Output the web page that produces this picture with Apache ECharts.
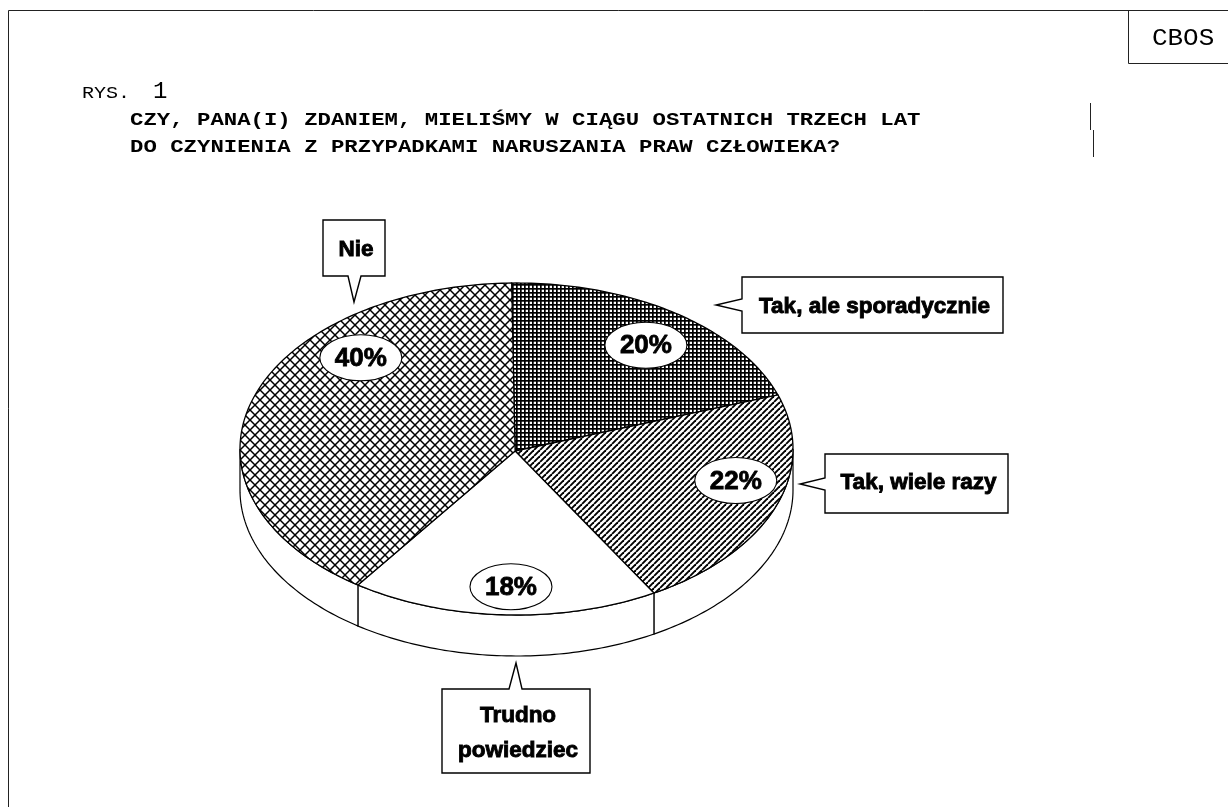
<!DOCTYPE html>
<html>
<head>
<meta charset="utf-8">
<title>CBOS rys. 1</title>
<script src="https://cdn.jsdelivr.net/npm/echarts@6/dist/echarts.min.js"></script>
<style>
	* { margin: 0; padding: 0 }
	html, body { width: 100%; height: 100%; background: #fff; overflow: hidden; }
	#main { width: 1228px; height: 807px; }
</style>
</head>
<body>
<div id="main"></div>
<script>
// dane, kolejnosc zgodnie z ruchem wskazowek od godziny 12
var categories = ['Tak, ale sporadycznie', 'Tak, wiele razy', 'Trudno\npowiedziec', 'Nie'];
var values = [20, 22, 18, 40];
var tickLabels = values.map(function (v) { return v + '%'; });

var titleLines = [
	'CZY, PANA(I) ZDANIEM, MIELIŚMY W CIĄGU OSTATNICH TRZECH LAT',
	'DO CZYNIENIA Z PRZYPADKAMI NARUSZANIA PRAW CZŁOWIEKA?'
];

// polozenie owali z procentami (w jednostkach osi)
var ovalX = [0.468, 0.793, -0.02, -0.563];
var ovalY = [0.625, -0.19, -0.83, 0.55];
var DEPTH = 0.247;
var START_ANGLE = -1;
var APEX = [-0.005, -0.012];

var fontSans = '"Liberation Sans", Arial, sans-serif';
var fontMono = '"Liberation Mono", "Courier New", monospace';

function patternCanvas(w, h, draw) {
	var c = document.createElement('canvas');
	c.width = w;
	c.height = h;
	var ctx = c.getContext('2d');
	ctx.fillStyle = '#fff';
	ctx.fillRect(0, 0, w, h);
	ctx.fillStyle = '#000';
	ctx.strokeStyle = '#000';
	draw(ctx);
	return { image: c, repeat: 'repeat' };
}

var fills = [
	// gesta kratka
	patternCanvas(4, 4, function (ctx) {
		ctx.fillRect(0, 0, 4, 1.7);
		ctx.fillRect(0, 0, 1.7, 4);
	}),
	// ukosne linie
	patternCanvas(6, 6, function (ctx) {
		ctx.lineWidth = 1.9;
		for (var i = -6; i <= 12; i += 6) {
			ctx.beginPath();
			ctx.moveTo(i, 6);
			ctx.lineTo(i + 6, 0);
			ctx.stroke();
		}
	}),
	'#fff',
	// ukosna krata
	patternCanvas(10, 10, function (ctx) {
		ctx.lineWidth = 1.5;
		for (var i = -10; i <= 20; i += 10) {
			ctx.beginPath();
			ctx.moveTo(i, 10);
			ctx.lineTo(i + 10, 0);
			ctx.moveTo(i, 0);
			ctx.lineTo(i + 10, 10);
			ctx.stroke();
		}
	})
];

// dymki: prostokat + dziobek, tekst z categories
var callouts = [
	{ box: [742, 277, 1003, 333], tip: [[742, 299], [716, 305], [742, 311]], dy: 2 },
	{ box: [825, 454, 1008, 513], tip: [[825, 478], [800, 484], [825, 490]], dy: -1 },
	{ box: [442, 689, 590, 773], tip: [[509, 689], [516, 663], [522, 689]], dy: 2 },
	{ box: [323, 220, 385, 276], tip: [[348, 276], [354, 302], [361, 276]], dy: 2 }
];

function calloutGraphics() {
	var out = [];
	callouts.forEach(function (c, i) {
		var b = c.box;
		var t = c.tip;
		var pts;
		// wstawienie dziobka w odpowiedni bok ramki
		if (t[0][0] === b[0]) {
			pts = [[b[0], b[1]], [b[2], b[1]], [b[2], b[3]], [b[0], b[3]], t[2], t[1], t[0]];
		} else if (t[0][1] === b[1]) {
			pts = [[b[0], b[1]], t[0], t[1], t[2], [b[2], b[1]], [b[2], b[3]], [b[0], b[3]]];
		} else {
			pts = [[b[0], b[1]], [b[2], b[1]], [b[2], b[3]], t[2], t[1], t[0], [b[0], b[3]]];
		}
		out.push({
			type: 'polygon',
			shape: { points: pts },
			style: { fill: '#fff', stroke: '#000', lineWidth: 1.4, lineJoin: 'miter' }
		});
		out.push({
			type: 'text',
			x: (b[0] + b[2]) / 2 + 2,
			y: (b[1] + b[3]) / 2 + c.dy,
			style: {
				text: categories[i],
				font: 'bold 22.5px ' + fontSans,
				fill: '#000',
				stroke: '#000',
				lineWidth: 0.9,
				align: 'center',
				verticalAlign: 'middle',
				lineHeight: 35
			}
		});
	});
	return out;
}

function monoText(x, y, text, size, scaleX, bold) {
	return {
		type: 'text',
		x: x,
		y: y,
		scaleX: scaleX,
		style: {
			text: text,
			font: (bold ? 'bold ' : '') + size + 'px ' + fontMono,
			fill: '#000',
			verticalAlign: 'middle'
		}
	};
}

function line(x1, y1, x2, y2) {
	return {
		type: 'line',
		shape: { x1: x1, y1: y1, x2: x2, y2: y2 },
		style: { stroke: '#222', lineWidth: 1 }
	};
}

var total = values.reduce(function (a, b) { return a + b; }, 0);

function renderSlice(params, api) {
	var i = params.dataIndex;
	var start = 0;
	for (var k = 0; k < i; k++) start += values[k];
	var a0 = START_ANGLE + start / total * 360;
	var a1 = START_ANGLE + (start + values[i]) / total * 360;

	function pt(deg, drop) {
		var r = deg * Math.PI / 180;
		return api.coord([Math.sin(r), Math.cos(r) - (drop || 0)]);
	}
	function arc(from, to, drop) {
		var pts = [];
		var n = Math.max(2, Math.ceil(Math.abs(to - from)));
		for (var j = 0; j <= n; j++) pts.push(pt(from + (to - from) * j / n, drop));
		return pts;
	}

	var children = [];

	// bok walca widoczny tylko na dolnej polowie
	var w0 = Math.max(a0, 90);
	var w1 = Math.min(a1, 270);
	if (w1 > w0) {
		children.push({
			type: 'polygon',
			shape: { points: arc(w0, w1, 0).concat(arc(w1, w0, DEPTH)) },
			style: { fill: '#fff', stroke: '#000', lineWidth: 1.2 }
		});
	}

	children.push({
		type: 'polygon',
		shape: { points: [api.coord(APEX)].concat(arc(a0, a1, 0)) },
		style: { fill: fills[i], stroke: '#000', lineWidth: 1.3 }
	});

	var c = api.coord([ovalX[i], ovalY[i]]);
	children.push({
		type: 'ellipse',
		shape: { cx: c[0], cy: c[1], rx: 41, ry: 23 },
		style: { fill: '#fff', stroke: '#000', lineWidth: 1.1 }
	});
	children.push({
		type: 'text',
		x: c[0],
		y: c[1] + 1,
		style: {
			text: tickLabels[i],
			font: 'bold 26px ' + fontSans,
			fill: '#000',
			stroke: '#000',
			lineWidth: 0.8,
			align: 'center',
			verticalAlign: 'middle'
		}
	});
	return { type: 'group', children: children };
}

var myChart = echarts.init(document.getElementById('main'), null, { renderer: 'canvas' });

myChart.setOption({
	animation: false,
	backgroundColor: '#fff',
	grid: { left: 240, top: 283, width: 553, height: 332 },
	xAxis: { type: 'value', min: -1, max: 1, show: false },
	yAxis: { type: 'value', min: -1, max: 1, show: false },
	series: [{
		type: 'custom',
		coordinateSystem: 'cartesian2d',
		clip: false,
		data: values.map(function (v, i) { return [i, v]; }),
		renderItem: renderSlice,
		z: 2
	}],
	graphic: [
		line(8.5, 10.5, 1228, 10.5),
		line(8.5, 10.5, 8.5, 807),
		line(1128.5, 10.5, 1128.5, 63.5),
		line(1128.5, 63.5, 1228, 63.5),
		line(1090.5, 103, 1090.5, 130),
		line(1093.5, 130, 1093.5, 157),
		monoText(1152, 39, 'CBOS', 24, 1.08, false),
		monoText(82, 93, 'RYS.', 17, 1.18, false),
		monoText(153, 92, '1', 24, 1, false),
		monoText(130, 120, titleLines[0], 19, 1.175, true),
		monoText(130, 147, titleLines[1], 19, 1.175, true)
	].concat(calloutGraphics())
});
</script>
</body>
</html>
